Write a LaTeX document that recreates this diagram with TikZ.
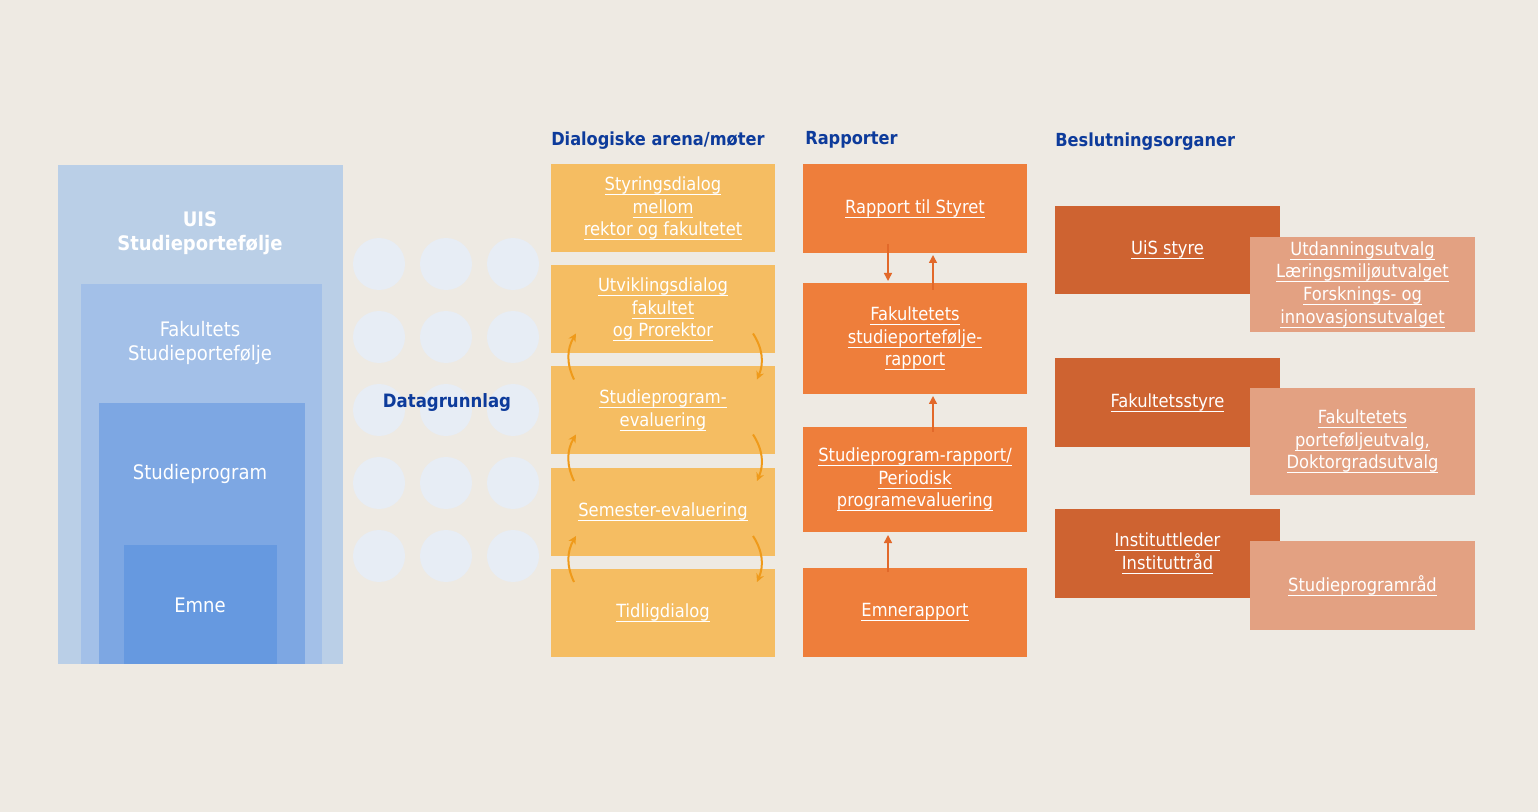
\documentclass[tikz,border=0pt]{standalone}
\usepackage{fontspec}
\setmainfont{DejaVu Sans Condensed}
\usetikzlibrary{arrows.meta}
\definecolor{bg}{HTML}{EEEAE3}
\definecolor{nestA}{HTML}{BACFE7}
\definecolor{nestB}{HTML}{A3C0E8}
\definecolor{nestC}{HTML}{7DA7E3}
\definecolor{nestD}{HTML}{6699E0}
\definecolor{dotc}{HTML}{E7EDF5}
\definecolor{hblue}{HTML}{0D3B9B}
\definecolor{yel}{HTML}{F5BD62}
\definecolor{ora}{HTML}{EE7E3B}
\definecolor{dor}{HTML}{CE6331}
\definecolor{lor}{HTML}{E3A182}
\definecolor{cycc}{HTML}{EF9A1A}
\definecolor{repc}{HTML}{E2692A}
\newcommand\lnk[1]{\setbox0\hbox{#1}\rlap{\rule[-3.4pt]{\wd0}{0.85pt}}\box0}
\tikzset{
  box/.style={rectangle, inner sep=2pt, outer sep=0pt, text=white, align=center,
    font=\fontsize{13.6}{17}\selectfont},
  ybox/.style={box, fill=yel, minimum width=168pt, minimum height=66pt},
  obox/.style={box, fill=ora, minimum width=168pt},
  dbox/.style={box, fill=dor, minimum width=168.75pt, minimum height=66.5pt},
  lbox/.style={box, fill=lor, minimum width=168.75pt},
  nest/.style={rectangle, inner sep=0pt, outer sep=0pt, anchor=north west},
  wtxt/.style={text=white, align=center, font=\fontsize{15}{18}\selectfont},
  head/.style={text=hblue, inner sep=0pt, anchor=west, font=\bfseries\fontsize{13.5}{16}\selectfont},
  dot/.style={circle, fill=dotc, minimum size=39pt, inner sep=0pt},
  cyc/.style={draw=cycc, line width=1.5pt, -{Stealth[length=6pt,width=6pt]}},
  rep/.style={draw=repc, line width=1.1pt, -{Triangle[length=6pt,width=6pt]}},
}
\begin{document}
\begin{tikzpicture}[x=0.75pt,y=-0.75pt]
\fill[bg] (0,0) rectangle (1538,812);
\node(u)[nest, fill=nestA, minimum width=213.75pt, minimum height=374.25pt] at (58,165) {};
\node(f)[nest, fill=nestB, minimum width=180.75pt, minimum height=285pt] at (81,284) {};
\node(s)[nest, fill=nestC, minimum width=154.5pt, minimum height=195.75pt] at (99,403) {};
\node(e)[nest, fill=nestD, minimum width=114.75pt, minimum height=89.25pt] at (124,545) {};
\node(ut)[wtxt, font=\bfseries\fontsize{15}{18}\selectfont] at (200,233) {UIS\\Studieportefølje};
\node(ft)[wtxt] at (200,343) {Fakultets\\Studieportefølje};
\node(st)[wtxt] at (200,474) {Studieprogram};
\node(et)[wtxt] at (200,605) {Emne};
\matrix (g) [row sep=15.75pt, column sep=11.25pt] at (446,410) {
\node(g11)[dot]{}; & \node(g12)[dot]{}; & \node(g13)[dot]{}; \\
\node(g21)[dot]{}; & \node(g22)[dot]{}; & \node(g23)[dot]{}; \\
\node(g31)[dot]{}; & \node(g32)[dot]{}; & \node(g33)[dot]{}; \\
\node(g41)[dot]{}; & \node(g42)[dot]{}; & \node(g43)[dot]{}; \\
\node(g51)[dot]{}; & \node(g52)[dot]{}; & \node(g53)[dot]{}; \\
};
\node(dg)[text=hblue, font=\bfseries\fontsize{13.8}{16}\selectfont] at (447,402) {Datagrunnlag};
\node(h1)[head] at (551,141) {Dialogiske arena/møter};
\node(h2)[head] at (805,140) {Rapporter};
\node(h3)[head] at (1055,142) {Beslutningsorganer};
\node(y1)[ybox] at (663,208.5) {\lnk{Styringsdialog}\\\lnk{mellom}\\\lnk{rektor og fakultetet}};
\node(y2)[ybox] at (663,309.5) {\lnk{Utviklingsdialog}\\\lnk{fakultet}\\\lnk{og Prorektor}};
\node(y3)[ybox] at (663,410.5) {\lnk{Studieprogram-}\\\lnk{evaluering}};
\node(y4)[ybox] at (663,512) {\lnk{Semester-evaluering}};
\node(y5)[ybox] at (663,613) {\lnk{Tidligdialog}};
\draw[cyc] ([shift={(23,13)}]y3.north west) to[bend left=28] ([shift={(25,-20)}]y2.south west);
\draw[cyc] ([shift={(23,13)}]y4.north west) to[bend left=28] ([shift={(25,-20)}]y3.south west);
\draw[cyc] ([shift={(23,13)}]y5.north west) to[bend left=28] ([shift={(25,-20)}]y4.south west);
\draw[cyc] ([shift={(-22,-20)}]y2.south east) to[bend left=28] ([shift={(-18,13)}]y3.north east);
\draw[cyc] ([shift={(-22,-20)}]y3.south east) to[bend left=28] ([shift={(-18,13)}]y4.north east);
\draw[cyc] ([shift={(-22,-20)}]y4.south east) to[bend left=28] ([shift={(-18,13)}]y5.north east);
\node(r1)[obox, minimum height=66.75pt] at (915,208.5) {\lnk{Rapport til Styret}};
\node(r2)[obox, minimum height=83.25pt] at (915,338.5) {\lnk{Fakultetets}\\\lnk{studieportefølje-}\\\lnk{rapport}};
\node(r3)[obox, minimum height=78.75pt] at (915,479.5) {\lnk{Studieprogram-rapport/}\\\lnk{Periodisk}\\\lnk{programevaluering}};
\node(r4)[obox, minimum height=66.75pt] at (915,612.5) {\lnk{Emnerapport}};
\draw[rep] ([shift={(-27,-9)}]r1.south) -- ([shift={(-27,-2)}]r2.north);
\draw[rep] ([shift={(18,7)}]r2.north) -- ([shift={(18,2)}]r1.south);
\draw[rep] ([shift={(18,5)}]r3.north) -- ([shift={(18,2)}]r2.south);
\draw[rep] ([shift={(-27,4)}]r4.north) -- ([shift={(-27,3)}]r3.south);
\node(d1)[dbox] at (1167.5,250) {\lnk{UiS styre}};
\node(d2)[dbox] at (1167.5,402.5) {\lnk{Fakultetsstyre}};
\node(d3)[dbox] at (1167.5,553.5) {\lnk{Instituttleder}\\\lnk{Instituttråd}};
\node(l1)[lbox, minimum height=71.25pt] at (1362.5,284.5) {\lnk{Utdanningsutvalg}\\\lnk{Læringsmiljøutvalget}\\\lnk{Forsknings- og}\\\lnk{innovasjonsutvalget}};
\node(l2)[lbox, minimum height=80.25pt] at (1362.5,441.5) {\lnk{Fakultetets}\\\lnk{porteføljeutvalg,}\\\lnk{Doktorgradsutvalg}};
\node(l3)[lbox, minimum height=66.75pt] at (1362.5,585.5) {\lnk{Studieprogramråd}};
\end{tikzpicture}
\end{document}
